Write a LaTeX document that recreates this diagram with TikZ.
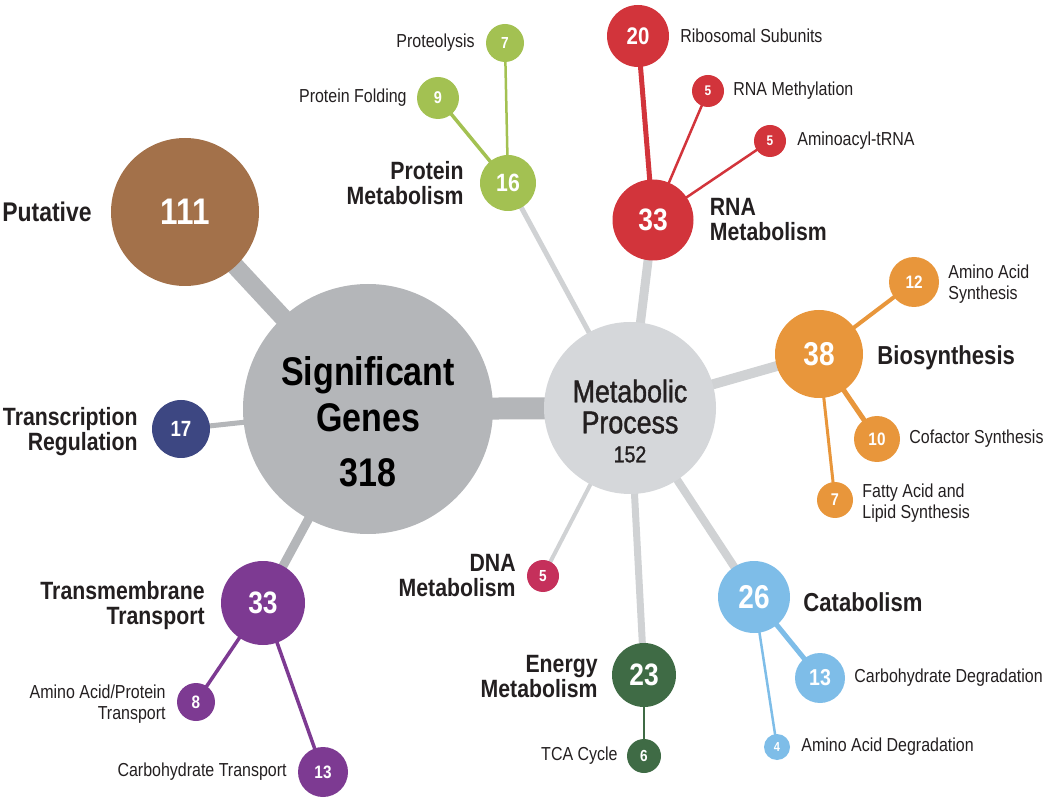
\documentclass[tikz,border=0pt]{standalone}
\usepackage{fontspec}
\setmainfont[FakeStretch=0.85]{Liberation Sans}
\newfontfamily\medfont[FakeStretch=0.85, FakeBold=1.2]{Liberation Sans}
\usetikzlibrary{positioning,backgrounds}
\definecolor{SigGray}{RGB}{180,182,185}
\definecolor{MetGray}{RGB}{213,215,218}
\definecolor{LinkGray}{RGB}{208,210,212}
\definecolor{PutBrown}{RGB}{163,113,74}
\definecolor{TrNavy}{RGB}{61,71,130}
\definecolor{TmPurple}{RGB}{125,58,146}
\definecolor{ProtGreen}{RGB}{163,193,82}
\definecolor{RnaRed}{RGB}{210,52,59}
\definecolor{BioOrange}{RGB}{232,150,59}
\definecolor{CatBlue}{RGB}{126,189,232}
\definecolor{EnGreen}{RGB}{63,107,69}
\definecolor{DnaRed}{RGB}{197,48,91}
\definecolor{TextDark}{RGB}{35,31,32}
\newcommand{\fsz}[1]{\fontsize{#1}{#1}\selectfont}

\begin{document}
\begin{tikzpicture}[
    x=1pt, y=-1pt,
    bubble/.style={circle, inner sep=0pt, minimum size=#1pt, text=white},
    num/.style={font=\fsz{#1}\bfseries},
    biglabel/.style={inner sep=0pt, text=TextDark, font=\fsz{#1}\bfseries},
    biglabel/.default=25,
    smalllabel/.style={inner sep=0pt, text=TextDark, font=\fontsize{18.8}{21}\selectfont},
    link/.style={line width=#1pt}
]
\useasboundingbox (0,0) rectangle (1050,799);

% hubs
\node[bubble=250, fill=SigGray] (sg) at (368,409) {};
\node[bubble=172, fill=MetGray] (mp) at (630,408) {};
\node[font=\fontsize{40}{46}\selectfont\bfseries, text=black, align=center] (sgtxt)
    at ([yshift=-13pt]sg.center) {Significant\\Genes\\[9pt]318};
\node[font=\medfont\fontsize{31.5}{31}\selectfont, text=TextDark, align=center] (mptxt)
    at ([yshift=-13pt]mp.center) {Metabolic\\Process\\[-2pt]{\fontsize{23}{23}\selectfont 152}};

% groups
\node[bubble=148, fill=PutBrown, num=37] (put) at (185,212) {111};
\node[bubble=58, fill=TrNavy, num=22] (trg) at (181,429) {17};
\node[bubble=84, fill=TmPurple, num=31] (tmt) at (263,603) {33};
\node[bubble=38, fill=TmPurple, num=18] (aap) at (196,702) {8};
\node[bubble=50, fill=TmPurple, num=18] (cht) at (323,772) {13};

\node[bubble=56, fill=ProtGreen, num=25] (prm) at (508,183) {16};
\node[bubble=42, fill=ProtGreen, num=17] (pfo) at (438,98) {9};
\node[bubble=38, fill=ProtGreen, num=16] (prt) at (505,43) {7};

\node[bubble=81, fill=RnaRed, num=31] (rna) at (653,220) {33};
\node[bubble=62, fill=RnaRed, num=24] (rib) at (638,36) {20};
\node[bubble=32, fill=RnaRed, num=14] (rme) at (708,91) {5};
\node[bubble=32, fill=RnaRed, num=14] (ami) at (770,141) {5};

\node[bubble=88, fill=BioOrange, num=33] (bio) at (819,354) {38};
\node[bubble=50, fill=BioOrange, num=18] (aas) at (914,282) {12};
\node[bubble=46, fill=BioOrange, num=18] (cof) at (877,439) {10};
\node[bubble=36, fill=BioOrange, num=17] (fal) at (835,500) {7};

\node[bubble=72, fill=CatBlue, num=33] (cat) at (754,597) {26};
\node[bubble=50, fill=CatBlue, num=23] (chd) at (820,678) {13};
\node[bubble=26, fill=CatBlue, num=13] (aad) at (777,747) {4};

\node[bubble=64, fill=EnGreen, num=31] (ene) at (644,675) {23};
\node[bubble=34, fill=EnGreen, num=16] (tca) at (644,756) {6};

\node[bubble=32, fill=DnaRed, num=16] (dna) at (543,576) {5};

% labels
\node[biglabel=27, left=19pt of put] (putlab) {Putative};
\node[biglabel, align=right, left=14pt of trg, yshift=-2.5pt] (trglab) {Transcription\\Regulation};
\node[biglabel, align=right, left=16pt of tmt, yshift=-3pt] (tmtlab) {Transmembrane\\Transport};
\node[smalllabel, align=right, left=11pt of aap, yshift=-2.5pt] (aaplab) {Amino Acid/Protein\\Transport};
\node[smalllabel, left=11pt of cht] (chtlab) {Carbohydrate Transport};
\node[biglabel, align=right, left=16pt of prm] (prmlab) {Protein\\Metabolism};
\node[smalllabel, left=10pt of pfo] (pfolab) {Protein Folding};
\node[smalllabel, left=11pt of prt] (prtlab) {Proteolysis};
\node[biglabel, align=left, right=16pt of rna] (rnalab) {RNA\\Metabolism};
\node[smalllabel, right=11pt of rib] (riblab) {Ribosomal Subunits};
\node[smalllabel, right=9pt of rme] (rmelab) {RNA Methylation};
\node[smalllabel, right=11pt of ami] (amilab) {Aminoacyl-tRNA};
\node[biglabel=26, right=14pt of bio, yshift=-4pt] (biolab) {Biosynthesis};
\node[smalllabel, align=left, right=9pt of aas, yshift=-2.5pt] (aaslab) {Amino Acid\\Synthesis};
\node[smalllabel, right=9pt of cof] (coflab) {Cofactor Synthesis};
\node[smalllabel, align=left, right=9pt of fal, yshift=-3pt] (fallab) {Fatty Acid and\\Lipid Synthesis};
\node[biglabel=26, right=13pt of cat, yshift=-5pt] (catlab) {Catabolism};
\node[smalllabel, right=9pt of chd] (chdlab) {Carbohydrate Degradation};
\node[smalllabel, right=11pt of aad] (aadlab) {Amino Acid Degradation};
\node[biglabel, align=right, left=14pt of ene, yshift=-1.5pt] (enelab) {Energy\\Metabolism};
\node[smalllabel, left=9pt of tca] (tcalab) {TCA Cycle};
\node[biglabel, align=right, left=11pt of dna] (dnalab) {DNA\\Metabolism};

% spokes
\begin{pgfonlayer}{background}
\draw[link=18, SigGray] (sg.center) -- (put.center);
\draw[link=5, SigGray] (sg.center) -- (trg.center);
\draw[link=9, SigGray] (sg.center) -- (tmt.center);
\draw[link=22, SigGray] (sg.center) -- (mp.center);

\draw[link=5, LinkGray] (mp.center) -- (prm.center);
\draw[link=9, LinkGray] (mp.center) -- (rna.center);
\draw[link=10, LinkGray] (mp.center) -- (bio.center);
\draw[link=8, LinkGray] (mp.center) -- (cat.center);
\draw[link=7, LinkGray] (mp.center) -- (ene.center);
\draw[link=4, LinkGray] (mp.center) -- (dna.center);

\draw[link=3.5, TmPurple] (tmt.center) -- (aap.center);
\draw[link=3.5, TmPurple] (tmt.center) -- (cht.center);
\draw[link=3.5, ProtGreen] (prm.center) -- (pfo.center);
\draw[link=2.5, ProtGreen] (prm.center) -- (prt.center);
\draw[link=5, RnaRed] (rna.center) -- (rib.center);
\draw[link=2.5, RnaRed] (rna.center) -- (rme.center);
\draw[link=2.5, RnaRed] (rna.center) -- (ami.center);
\draw[link=4, BioOrange] (bio.center) -- (aas.center);
\draw[link=5, BioOrange] (bio.center) -- (cof.center);
\draw[link=3, BioOrange] (bio.center) -- (fal.center);
\draw[link=5, CatBlue] (cat.center) -- (chd.center);
\draw[link=2.5, CatBlue] (cat.center) -- (aad.center);
\draw[link=2.5, EnGreen] (ene.center) -- (tca.center);
\end{pgfonlayer}

\end{tikzpicture}
\end{document}
